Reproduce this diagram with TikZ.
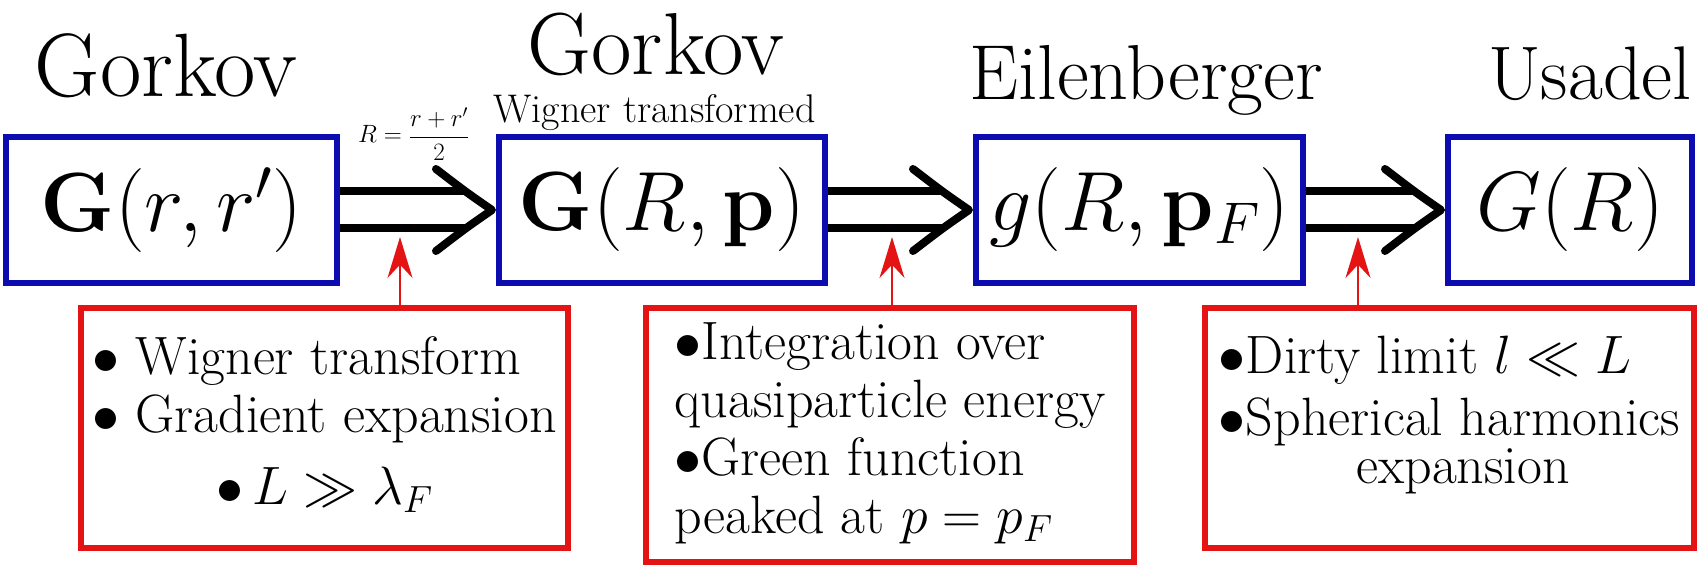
\RequirePackage{fix-cm}
\documentclass[tikz,border=0pt]{standalone}
\usetikzlibrary{arrows.meta,positioning}
\tikzset{>=Stealth}
\definecolor{boxblue}{RGB}{12,12,176}
\definecolor{boxred}{RGB}{228,20,20}
\tikzset{
  blk/.style={draw=boxblue,line width=6pt,minimum height=146pt,inner sep=0pt,
    font=\fontsize{84}{96}\selectfont},
  note/.style={draw=boxred,line width=6pt,inner sep=0pt,
    font=\fontsize{54}{58}\selectfont},
  ttl/.style={anchor=base},
  dbl/.style={double,line width=8pt,double distance=29pt,shorten >=30pt},
  headline/.style={line width=8pt,line cap=round,line join=round},
  upar/.style={boxred,line width=2pt,-{Stealth[length=41pt,width=25pt]}}
}
\newcommand*{\fsz}[1]{\fontsize{#1}{#1}\selectfont}
\newcommand*{\headat}[1]
  {\draw[headline,shift={(#1)},xshift=-4pt]
    (-56,41) .. controls (-26,18) .. (0,0) .. controls (-26,-18) .. (-56,-41)}

\begin{document}
\begin{tikzpicture}[x=1pt,y=1pt]
\useasboundingbox (0,0) rectangle (1701,571);

% The four Green functions
\node [blk,minimum width=331pt] (gor) at (171.5,361) {$\mathbf{G}(r,r')$};
\node [blk,minimum width=326pt] (wig) at (662,361) {$\mathbf{G}(R,\mathbf{p})$};
\node [blk,minimum width=327pt] (eil) at (1139.5,361) {$g(R,\mathbf{p}_F)$};
\node [blk,minimum width=244pt] (usa) at (1570,361) {$G(R)$};

% Titles
\node [ttl,font=\fsz{90}] (tgor) at (166,474) {Gorkov};
\node [ttl,font=\fsz{88}] (twig) at (656,496) {Gorkov};
\node [ttl,anchor=base west,font=\fsz{40}] (tsub) at (490,448) {Wigner transformed};
\node [ttl,font=\fsz{78}] (teil) at (1146,471) {Eilenberger};
\node [ttl,font=\fsz{76}] (tusa) at (1590,471) {Usadel};

% Steps between them
\draw [dbl] (gor) -- (wig);
\draw [dbl] (wig) -- (eil);
\draw [dbl] (eil) -- (usa);
\headat{wig.west};
\headat{eil.west};
\headat{usa.west};
\node [anchor=base west,inner sep=0pt,font=\fsz{25}] (rdef) at (358,428)
  {$\displaystyle R=\frac{r+r'}{2}$};

% Approximations used at each step
\node [note,minimum width=487pt,minimum height=240pt] (n1) at (324.5,143)
  {\begin{tabular}{@{}l@{}}
   $\bullet$ Wigner transform\\
   $\bullet$ Gradient expansion\\[14pt]
   \multicolumn{1}{@{}c@{}}{$\bullet\,L\gg\lambda_F$}
   \end{tabular}};
\node [note,minimum width=488pt,minimum height=254pt] (n2) at (890,136)
  {\begin{tabular}{@{}l@{}}
   $\bullet$Integration over\\
   quasiparticle energy\\
   $\bullet$Green function\\
   peaked at $p=p_F$
   \end{tabular}};
\node [note,minimum width=489pt,minimum height=240pt] (n3) at (1449.5,143)
  {\begin{tabular}{@{}l@{}}
   $\bullet$Dirty limit $l\ll L$\\[4pt]
   $\bullet$\begin{tabular}[t]{@{}c@{}}Spherical harmonics\\[-10pt]
   expansion\rule[-39pt]{0pt}{1pt}\end{tabular}
   \end{tabular}};

\coordinate (p1) at (400,334);
\coordinate (p2) at (892,334);
\coordinate (p3) at (1358,334);
\draw [upar] (p1 |- n1.north) -- (p1);
\draw [upar] (p2 |- n2.north) -- (p2);
\draw [upar] (p3 |- n3.north) -- (p3);
\end{tikzpicture}
\end{document}
